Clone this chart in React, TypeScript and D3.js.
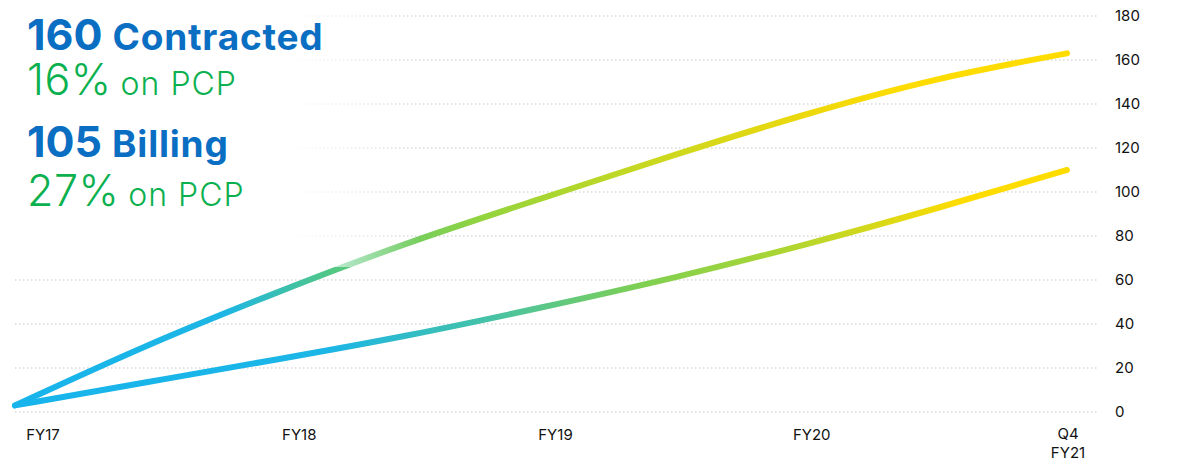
import React from "react";
import * as d3 from "d3";

const W = 1178;
const H = 463;

// period index 0 = start FY17 ... 4 = Q4 FY21
const periods = [0, 0.5, 1, 1.5, 2, 2.5, 3, 3.5, 4];
const contracted = [3, 30, 54.5, 77, 97, 116.5, 135, 151, 163];
const billing = [3, 13.5, 24, 35, 47.5, 61, 76, 92.5, 110];

const xLabels = ["FY17", "FY18", "FY19", "FY20", "Q4\nFY21"];
const yTicks = [0, 20, 40, 60, 80, 100, 120, 140, 160, 180];

const contractedStops: [number, string][] = [
  [0, "#17b4ec"],
  [0.2, "#1db6e4"],
  [0.3, "#52c784"],
  [0.45, "#95d43c"],
  [0.6, "#c8d820"],
  [0.75, "#ecd80c"],
  [0.85, "#ffdc00"],
  [1, "#ffdc00"],
];
const billingStops: [number, string][] = [
  [0, "#17b4ec"],
  [0.3, "#1cb6e6"],
  [0.45, "#45c2a6"],
  [0.6, "#80d050"],
  [0.72, "#a8d535"],
  [0.82, "#d8d818"],
  [0.9, "#ffdc00"],
  [1, "#ffdc00"],
];

export default function App() {
  const x = d3.scaleLinear().domain([0, 4]).range([15, 1067]);
  const y = d3.scaleLinear().domain([0, 180]).range([412, 16]);
  const xl = d3.scalePoint<string>().domain(xLabels).range([43, 1068]);

  const line = d3
    .line<number>()
    .x((_, i) => x(periods[i]))
    .y((d) => y(d))
    .curve(d3.curveNatural);

  const blue = "#0a6ec2";
  const green = "#0bb04f";
  const font = "Inter, 'Liberation Sans', Arial, sans-serif";

  return (
    <svg
      width={W}
      height={H}
      style={{ position: "absolute", left: 0, top: 0 }}
    >
      <defs>
        <linearGradient id="gC" gradientUnits="userSpaceOnUse" x1={x(0)} x2={x(4)} y1={0} y2={0}>
          {contractedStops.map(([o, c]) => (
            <stop key={o} offset={o} stopColor={c} />
          ))}
        </linearGradient>
        <linearGradient id="gB" gradientUnits="userSpaceOnUse" x1={x(0)} x2={x(4)} y1={0} y2={0}>
          {billingStops.map(([o, c]) => (
            <stop key={o} offset={o} stopColor={c} />
          ))}
        </linearGradient>
        <linearGradient id="fade" gradientUnits="userSpaceOnUse" x1={280} x2={420} y1={0} y2={0}>
          <stop offset={0} stopColor="#fff" stopOpacity={1} />
          <stop offset={1} stopColor="#fff" stopOpacity={0} />
        </linearGradient>
      </defs>
      <rect width={W} height={H} fill="#fff" />
      {yTicks.map((t) => (
        <g key={t}>
          <line
            x1={15}
            x2={1098}
            y1={y(t)}
            y2={y(t)}
            stroke="#d9d9d9"
            strokeWidth={1.5}
            strokeDasharray="1.5,2.5"
          />
          <text
            x={1115}
            y={y(t)}
            dy="0.35em"
            fontFamily={font}
            fontSize={15}
            fill="#111"
          >
            {t}
          </text>
        </g>
      ))}
      {xLabels.map((l) => {
        const parts = l.split("\n");
        return (
          <text
            key={l}
            x={xl(l)}
            y={parts.length > 1 ? 439 : 440}
            textAnchor="middle"
            fontFamily={font}
            fontSize={15}
            fill="#111"
          >
            {parts.map((p, i) => (
              <tspan key={p} x={xl(l)} dy={i === 0 ? 0 : 19}>
                {p}
              </tspan>
            ))}
          </text>
        );
      })}
      <path
        d={line(contracted) || ""}
        fill="none"
        stroke="url(#gC)"
        strokeWidth={6}
        strokeLinecap="round"
      />
      <path
        d={line(billing) || ""}
        fill="none"
        stroke="url(#gB)"
        strokeWidth={6}
        strokeLinecap="round"
      />
      <rect x={0} y={0} width={440} height={267} fill="url(#fade)" />
      <g fontFamily={font}>
        <text x={27} y={50} fill={blue} fontWeight="bold">
          <tspan fontSize={43}>160</tspan>
          <tspan fontSize={37} dx={10} letterSpacing={0.8}>Contracted</tspan>
        </text>
        <text x={27} y={95} fill={green} fontWeight={300}>
          <tspan fontSize={43} letterSpacing={0.5}>16%</tspan>
          <tspan fontSize={32} dx={9} letterSpacing={1}>on PCP</tspan>
        </text>
        <text x={27} y={157} fill={blue} fontWeight="bold">
          <tspan fontSize={43}>105</tspan>
          <tspan fontSize={37} dx={10} letterSpacing={0.8}>Billing</tspan>
        </text>
        <text x={27} y={206} fill={green} fontWeight={300}>
          <tspan fontSize={43} letterSpacing={0.5}>27%</tspan>
          <tspan fontSize={32} dx={9} letterSpacing={1}>on PCP</tspan>
        </text>
      </g>
    </svg>
  );
}
